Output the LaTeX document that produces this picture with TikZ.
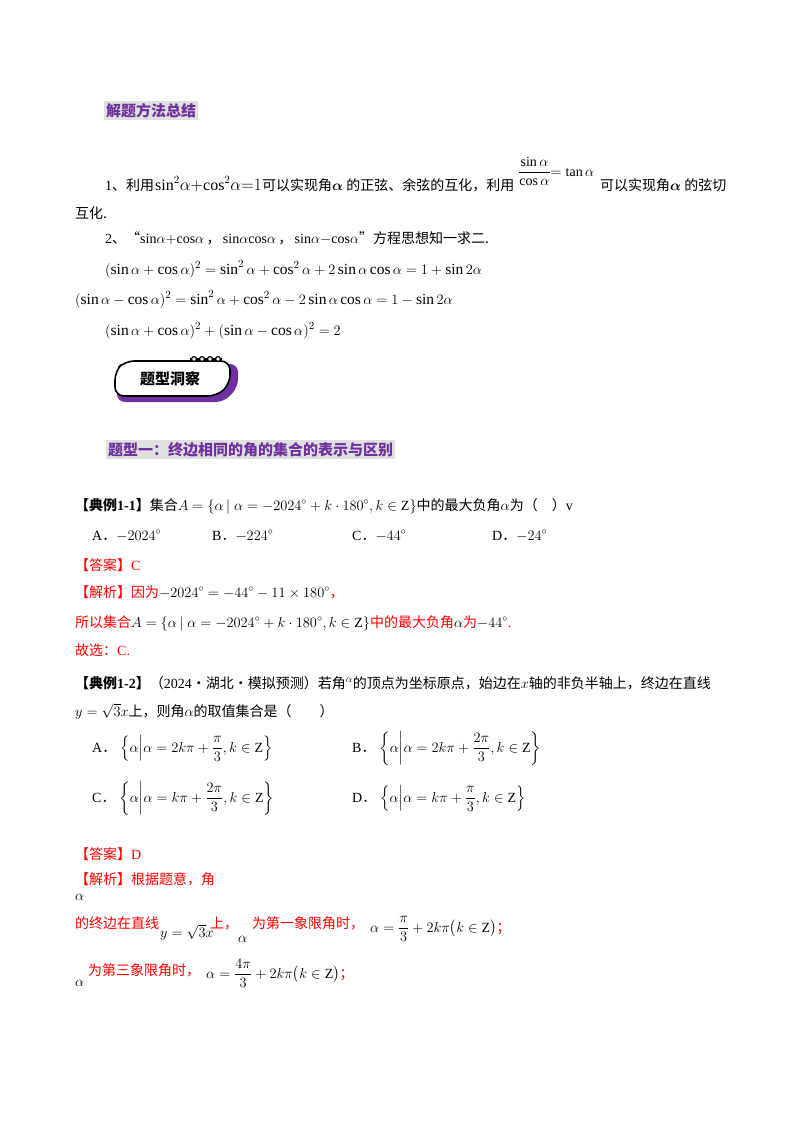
\documentclass[tikz,border=0pt]{standalone}
\usepackage{fontspec}
\usepackage{amsmath,amssymb}
\setmainfont{Liberation Serif}
\newfontfamily\cjk{Noto Sans CJK SC}
\definecolor{pur}{HTML}{7030A0}
\definecolor{hl}{HTML}{E0E0E0}
\definecolor{rd}{HTML}{FF0000}
\begin{document}
\begin{tikzpicture}[x=1pt,y=-1pt,
  t/.style={anchor=base west,inner sep=0pt,font=\fontsize{14}{16}\selectfont},
  m/.style={anchor=base west,inner sep=0pt,font=\fontsize{15.5}{17}\selectfont},
  r/.style={t,text=rd},
  head/.style={anchor=base west,inner sep=2pt,fill=hl,text=pur,font=\fontsize{15}{17}\selectfont\cjk\bfseries}]
\useasboundingbox (0,0) rectangle (800,1132);
\fill[white] (0,0) rectangle (800,1132);
% heading
\node[head] (h1) at (104,116) {解题方法总结};
% line 1
\node[t] (l1a) at (105,190) {1{\cjk 、利用}};
\node[t,font=\fontsize{16}{19}\selectfont] (l1b) at (155,190) {$\mathrm{sin}^2\alpha\mathbf{+}\mathrm{cos}^2\alpha\mathbf{=}1$};
\node[t] (l1c) at (262,190) {\cjk 可以实现角$\boldsymbol\alpha$ 的正弦、余弦的互化，利用};
\node[t,font=\fontsize{14}{16}\selectfont] (l1d) at (518,176) {$\dfrac{\mathrm{sin}\,\alpha}{\mathrm{cos}\,\alpha}\mathrm{=tan}\,\alpha$};
\node[t] (l1e) at (600,190) {\cjk 可以实现角$\boldsymbol\alpha$ 的弦切};
\node[t] (l1f) at (75,218) {\cjk 互化.};
\node[t] (l2) at (105,243) {2{\cjk 、“}$\mathrm{sin}\alpha\mathbf{+}\mathrm{cos}\alpha$\,{\cjk ，}\,$\mathrm{sin}\alpha\mathrm{cos}\alpha$\,{\cjk ，}\,$\mathrm{sin}\alpha\mathrm{-}\mathrm{cos}\alpha${\cjk ”方程思想知一求二.}};
\node[m] (e1) at (105,274) {$(\sin\alpha+\cos\alpha)^2=\sin^2\alpha+\cos^2\alpha+2\sin\alpha\cos\alpha=1+\sin2\alpha$};
\node[m] (e2) at (75,304) {$(\sin\alpha-\cos\alpha)^2=\sin^2\alpha+\cos^2\alpha-2\sin\alpha\cos\alpha=1-\sin2\alpha$};
\node[m] (e3) at (105,335) {$(\sin\alpha+\cos\alpha)^2+(\sin\alpha-\cos\alpha)^2=2$};
% badge
\fill[pur,rounded corners=8pt] (117,370) -- (125,364) -- (238,364) -- (238,387) -- (224,402) -- (117,402) -- cycle;
\draw[line width=1.6pt,fill=white,rounded corners=9pt] (115,371) -- (125,361) -- (230,361) -- (230,384) -- (217,396) -- (115,396) -- cycle;
\draw[line width=1.4pt] (190,359) -- (222,359);
\foreach \i in {0,1,2,3} \draw[line width=1.2pt,fill=white] (194+\i*8,359) circle (2.4pt);
\node[anchor=center,inner sep=0pt,font=\fontsize{15}{17}\selectfont\cjk\bfseries] (badge) at (170,379) {题型洞察};
% type 1
\node[head] (h2) at (106,455) {题型一：终边相同的角的集合的表示与区别};
\node[t] (q1) at (75,510) {{\cjk\bfseries 【典例}\textbf{1-1}{\cjk\bfseries 】}{\cjk 集合}$A=\left\{\alpha\,\middle|\;\alpha=-2024^\circ+k\cdot180^\circ,k\in\mathrm{Z}\right\}${\cjk 中的最大负角}$\alpha${\cjk 为（\quad ）}v};
\node[t] (oA) at (92,540) {A{\cjk ．}$-2024^\circ$};
\node[t] (oB) at (212,540) {B{\cjk ．}$-224^\circ$};
\node[t] (oC) at (352,540) {C{\cjk ．}$-44^\circ$};
\node[t] (oD) at (492,540) {D{\cjk ．}$-24^\circ$};
\node[r] (a1) at (75,570) {{\cjk 【答案】}C};
\node[r] (s1) at (75,597) {{\cjk 【解析】因为}\textcolor{black}{$-2024^\circ=-44^\circ-11\times180^\circ$}{\cjk ，}};
\node[r] (s2) at (75,627) {{\cjk 所以集合}\textcolor{black}{$A=\left\{\alpha\,\middle|\;\alpha=-2024^\circ+k\cdot180^\circ,k\in\mathrm{Z}\right\}$}{\cjk 中的最大负角}\textcolor{black}{$\alpha$}{\cjk 为}\textcolor{black}{$-44^\circ$}.};
\node[r] (s3) at (75,655) {{\cjk 故选：}C.};
\node[t] (q2) at (75,688) {{\cjk\bfseries 【典例}\textbf{1-2}{\cjk\bfseries 】}{\cjk （}2024{\cjk ·湖北·模拟预测）若角}$^\alpha${\cjk 的顶点为坐标原点，始边在}$x${\cjk 轴的非负半轴上，终边在直线}};
\node[t] (q2b) at (75,716) {$y=\sqrt3x${\cjk 上，则角}$\alpha${\cjk 的取值集合是（\qquad ）}};
\node[t] (pA) at (92,752) {A{\cjk ．}\;$\left\{\alpha\middle|\alpha=2k\pi+\dfrac{\pi}{3},k\in\mathrm{Z}\right\}$};
\node[t] (pB) at (352,752) {B{\cjk ．}\;$\left\{\alpha\middle|\alpha=2k\pi+\dfrac{2\pi}{3},k\in\mathrm{Z}\right\}$};
\node[t] (pC) at (92,802) {C{\cjk ．}\;$\left\{\alpha\middle|\alpha=k\pi+\dfrac{2\pi}{3},k\in\mathrm{Z}\right\}$};
\node[t] (pD) at (352,802) {D{\cjk ．}\;$\left\{\alpha\middle|\alpha=k\pi+\dfrac{\pi}{3},k\in\mathrm{Z}\right\}$};
\node[r] (a2) at (75,859) {{\cjk 【答案】}D};
\node[r] (s4) at (75,884) {\cjk 【解析】根据题意，角};
\node[t] (s4a) at (75,900) {$\alpha$};
\node[r] (s5) at (75,928) {\cjk 的终边在直线};
\node[t] (s5a) at (160,937) {$y=\sqrt3x$};
\node[r] (s5b) at (210,928) {\cjk 上，};
\node[t] (s5c) at (238,942) {$\alpha$};
\node[r] (s5d) at (252,928) {\cjk 为第一象限角时，};
\node[t] (s5e) at (370,932) {$\alpha=\dfrac{\pi}{3}+2k\pi\bigl(k\in\mathrm{Z}\bigr)${\color{rd}\cjk ；}};
\node[t] (s6a) at (75,986) {$\alpha$};
\node[r] (s6) at (88,975) {\cjk 为第三象限角时，};
\node[t] (s6b) at (206,978) {$\alpha=\dfrac{4\pi}{3}+2k\pi\bigl(k\in\mathrm{Z}\bigr)${\color{rd}\cjk ；}};
\end{tikzpicture}
\end{document}
